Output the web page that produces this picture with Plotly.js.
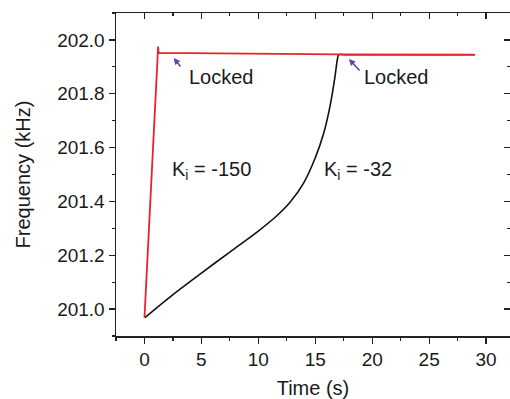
<!DOCTYPE html>
<html>
<head>
<meta charset="utf-8">
<script src="https://cdn.plot.ly/plotly-3.0.1.min.js"></script>
<style>html,body{margin:0;padding:0;background:#fff;}#chart{width:510px;height:399px;}</style>
</head>
<body>
<div id="chart"></div>
<script>
// Ki = -150 (red)
const redTime = [0, 1.2, 1.25, 5, 10, 17, 29];
const redFreq = [200.968, 201.975, 201.952, 201.950, 201.948, 201.946, 201.945];
// Ki = -32 (black)
const blackTime = [0.03, 2.5, 5, 7.5, 10, 11.5, 12.75, 14, 15, 15.75, 16.3, 16.7, 16.95, 17.05, 17.5, 20, 25, 29];
const blackFreq = [200.968, 201.054, 201.134, 201.212, 201.290, 201.342, 201.395, 201.470, 201.562, 201.655, 201.755, 201.855, 201.930, 201.945, 201.945, 201.945, 201.945, 201.945];

const xRange = [-2.5, 32.1];
const yRange = [200.9, 202.1];
const font = "Liberation Sans, Arial, sans-serif";

const traces = [
  {x: blackTime, y: blackFreq, mode: 'lines', line: {color: '#111111', width: 1.6, shape: 'spline', smoothing: 0.8}, hoverinfo: 'skip'},
  {x: redTime, y: redFreq, mode: 'lines', line: {color: '#e8232b', width: 1.8}, hoverinfo: 'skip'},
  {x: [], y: [], xaxis: 'x2', yaxis: 'y2', mode: 'lines', showlegend: false, hoverinfo: 'skip'}
];

const tickFont = {family: font, size: 19, color: '#1a1a1a'};
const arrowColor = '#5b4a9e';

const layout = {
  width: 510, height: 399,
  margin: {l: 116, r: 0, t: 13, b: 63, pad: 0},
  paper_bgcolor: '#fff', plot_bgcolor: '#fff',
  showlegend: false,
  font: {family: font, color: '#1a1a1a'},
  xaxis: {
    range: xRange, tick0: 0, dtick: 5, ticks: 'outside', ticklen: 6, tickwidth: 1.3, tickcolor: '#222',
    showline: true, linecolor: '#222', linewidth: 1.5, showgrid: false, zeroline: false,
    tickfont: tickFont,
    minor: {ticks: 'outside', dtick: 2.5, tick0: 0, ticklen: 3, tickwidth: 1.2, tickcolor: '#222'},
    title: {text: 'Time (s)', font: {family: font, size: 20, color: '#1a1a1a'}, standoff: 15}
  },
  yaxis: {
    range: yRange, tick0: 201.0, dtick: 0.2, tickformat: '.1f', ticks: 'outside', ticklen: 6, tickwidth: 1.3, tickcolor: '#222',
    showline: true, linecolor: '#222', linewidth: 1.5, showgrid: false, zeroline: false,
    tickfont: tickFont,
    minor: {ticks: 'outside', dtick: 0.1, tick0: 201.0, ticklen: 3, tickwidth: 1.2, tickcolor: '#222'},
    title: {text: 'Frequency (kHz)', font: {family: font, size: 20, color: '#1a1a1a'}, standoff: 21}
  },
  xaxis2: {
    overlaying: 'x', side: 'top', range: xRange, tick0: 0, dtick: 5, ticks: 'inside', ticklen: 6, tickwidth: 1.3, tickcolor: '#222',
    showline: true, linecolor: '#222', linewidth: 1.5, showgrid: false, zeroline: false, showticklabels: false,
    minor: {ticks: 'inside', dtick: 2.5, tick0: 0, ticklen: 3, tickwidth: 1.2, tickcolor: '#222'}
  },
  yaxis2: {
    overlaying: 'y', side: 'right', range: yRange, tick0: 201.0, dtick: 0.2, ticks: 'inside', ticklen: 6, tickwidth: 1.3, tickcolor: '#222',
    showline: false, showgrid: false, zeroline: false, showticklabels: false,
    minor: {ticks: 'inside', dtick: 0.1, tick0: 201.0, ticklen: 3, tickwidth: 1.2, tickcolor: '#222'}
  },
  annotations: [
    {x: 2.57, y: 201.933, xref: 'x', yref: 'y', text: '', showarrow: true, arrowhead: 2, arrowsize: 0.8, arrowwidth: 1.6, arrowcolor: arrowColor, ax: 8, ay: 10},
    {x: 17.96, y: 201.929, xref: 'x', yref: 'y', text: '', showarrow: true, arrowhead: 2, arrowsize: 0.8, arrowwidth: 1.6, arrowcolor: arrowColor, ax: 12, ay: 13},
    {x: 6.79, y: 201.862, xref: 'x', yref: 'y', text: 'Locked', showarrow: false, xanchor: 'center', yanchor: 'middle', font: {family: font, size: 20, color: '#1a1a1a'}},
    {x: 22.17, y: 201.862, xref: 'x', yref: 'y', text: 'Locked', showarrow: false, xanchor: 'center', yanchor: 'middle', font: {family: font, size: 20, color: '#1a1a1a'}},
    {x: 5.93, y: 201.516, xref: 'x', yref: 'y', text: 'K<sub>i</sub> = -150', showarrow: false, xanchor: 'center', yanchor: 'middle', font: {family: font, size: 20, color: '#1a1a1a'}},
    {x: 18.75, y: 201.516, xref: 'x', yref: 'y', text: 'K<sub>i</sub> = -32', showarrow: false, xanchor: 'center', yanchor: 'middle', font: {family: font, size: 20, color: '#1a1a1a'}}
  ]
};

Plotly.newPlot('chart', traces, layout, {staticPlot: true, displayModeBar: false});
</script>
</body>
</html>
